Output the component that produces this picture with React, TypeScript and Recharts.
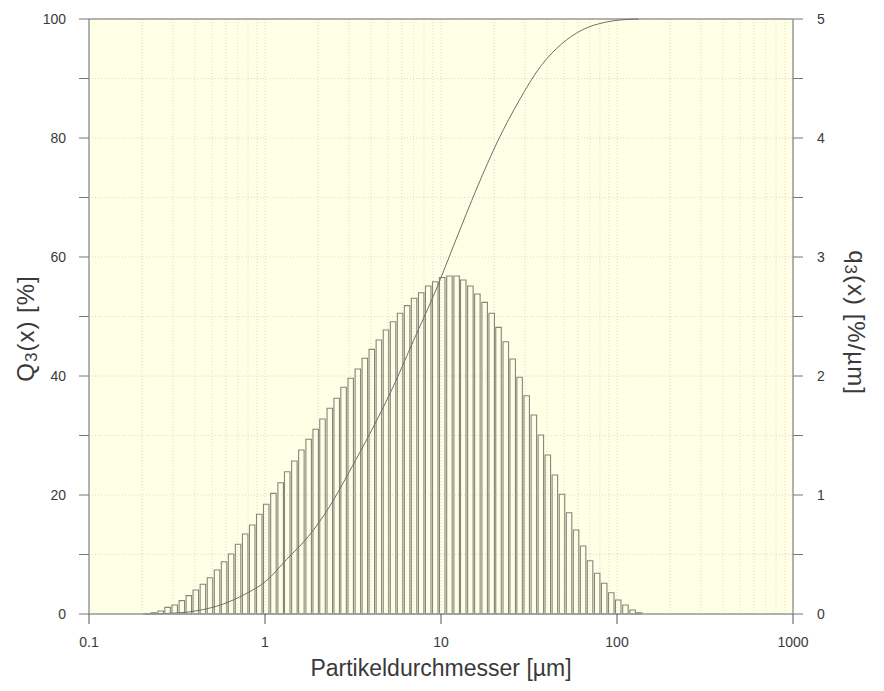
import { ComposedChart, Bar, Line, XAxis, YAxis, CartesianGrid, ReferenceLine, Label } from 'recharts';

// size classes (bin centres, µm)
const BIN_CENTERS = [
  0.211, 0.232, 0.254, 0.278, 0.305, 0.335, 0.367, 0.402, 0.441, 0.484, 0.531, 0.582, 0.638, 0.699, 0.767, 0.841, 0.922,
  1.01, 1.11, 1.22, 1.33, 1.46, 1.6, 1.76, 1.93, 2.11, 2.32, 2.54, 2.78, 3.05, 3.35, 3.67, 4.02, 4.41, 4.84, 5.31, 5.82,
  6.38, 6.99, 7.67, 8.41, 9.22,
  10.1, 11.1, 12.2, 13.3, 14.6, 16.0, 17.6, 19.3, 21.1, 23.2, 25.4, 27.8, 30.5, 33.5, 36.7, 40.2, 44.1, 48.4, 53.1, 58.2,
  63.8, 69.9, 76.7, 84.1, 92.2,
  101, 111, 122, 133,
];

// q3(x) [%/µm] per class
const Q3_DENSITY = [
  0.004, 0.011, 0.025, 0.056, 0.076, 0.112, 0.154, 0.202, 0.25, 0.305, 0.37, 0.439, 0.504, 0.586, 0.672, 0.748, 0.838,
  0.922, 1.014, 1.103, 1.196, 1.286, 1.378, 1.468, 1.552, 1.639, 1.729, 1.813, 1.905, 1.981, 2.059, 2.149, 2.224, 2.303,
  2.387, 2.456, 2.527, 2.591, 2.653, 2.7, 2.756, 2.792,
  2.828, 2.84, 2.84, 2.807, 2.756, 2.689, 2.619, 2.527, 2.409, 2.288, 2.143, 1.989, 1.834, 1.672, 1.504, 1.336, 1.168,
  1.006, 0.851, 0.706, 0.571, 0.448, 0.342, 0.258, 0.179,
  0.118, 0.076, 0.034, 0.011,
];

// Q3(x) [%]
const CURVE_SIZES = [0.211, 0.278, 0.402, 0.582, 0.767, 1.01, 1.33, 1.76, 2.32, 3.05, 4.02, 5.31, 6.99, 9.22, 12.2, 16.0, 21.1, 27.8, 36.7, 48.4, 63.8, 84.1, 111, 133];
const CURVE_Q3 = [0, 0.1, 0.5, 1.7, 3.3, 5.5, 9.2, 13, 18, 24.2, 30.8, 38, 46, 54, 63, 71.6, 79.6, 86.3, 92, 95.8, 98.2, 99.4, 99.9, 100];

const X_TICKS = [0.1, 1, 10, 100, 1000];
const X_MINOR = [2, 3, 4, 5, 6, 7, 8, 9];
const LEFT_TICKS = [0, 10, 20, 30, 40, 50, 60, 70, 80, 90, 100];
const RIGHT_TICKS = [0, 0.5, 1, 1.5, 2, 2.5, 3, 3.5, 4, 4.5, 5];

const X_GRID = [
  ...X_TICKS,
  ...X_TICKS.slice(0, -1).flatMap((d) => X_MINOR.map((m) => m * d)),
].sort((a, b) => a - b);

const rows = BIN_CENTERS.map((x, i) => {
  const j = CURVE_SIZES.indexOf(x);
  return { x, q: Q3_DENSITY[i], Q: j >= 0 ? CURVE_Q3[j] : null };
});

const FONT = '"Liberation Sans", Arial, sans-serif';
const AXIS = '#9a9a9a';
const TEXT = '#3a3a3a';

function XTick({ x, y, payload }: any) {
  if (!X_TICKS.includes(payload.value)) return null;
  return (
    <g>
      <line x1={x} x2={x} y1={y} y2={y + 10} stroke="#555" strokeWidth={1} />
      <text x={x} y={y + 33} textAnchor="middle" fill={TEXT} fontSize={14} fontFamily={FONT}>
        {payload.value}
      </text>
    </g>
  );
}

function XTitle({ viewBox }: any) {
  const { x, y, width } = viewBox;
  return (
    <text x={x + width / 2} y={y + 62} textAnchor="middle" fill={TEXT} fontSize={23} fontFamily={FONT}>
      Partikeldurchmesser [µm]
    </text>
  );
}

function LeftTitle({ viewBox }: any) {
  const cx = viewBox.x + 16;
  const cy = viewBox.y + viewBox.height / 2 + 12;
  return (
    <text x={cx} y={cy} transform={`rotate(-90, ${cx}, ${cy})`} textAnchor="middle" dominantBaseline="central"
      fill={TEXT} fontSize={24} letterSpacing={1} fontFamily={FONT}>
      Q<tspan fontSize={17} dy={6}>3</tspan><tspan dy={-6}>(x) [%]</tspan>
    </text>
  );
}

function RightTitle({ viewBox }: any) {
  const cx = viewBox.x + 64;
  const cy = viewBox.y + viewBox.height / 2 + 6;
  return (
    <text x={cx} y={cy} transform={`rotate(90, ${cx}, ${cy})`} textAnchor="middle" dominantBaseline="central"
      fill={TEXT} fontSize={24} letterSpacing={1} fontFamily={FONT}>
      q<tspan fontSize={17} dy={6}>3</tspan><tspan dy={-6}>(x) [%/µm]</tspan>
    </text>
  );
}

export default function App() {
  return (
    <div style={{ position: 'absolute', left: 0, top: 0, background: '#fff' }}>
      <ComposedChart width={884} height={691} data={rows} margin={{ top: 19, right: 31, left: 9, bottom: 37 }}>
        <CartesianGrid yAxisId="left" fill="#ffffe6" stroke="#dcdcc8" strokeDasharray="1 2" />
        <XAxis
          dataKey="x"
          type="number"
          scale="log"
          domain={[0.1, 1000]}
          allowDataOverflow
          ticks={X_GRID}
          interval={0}
          height={40}
          tickLine={false}
          tickSize={0}
          tickMargin={0}
          tick={<XTick />}
          axisLine={{ stroke: AXIS, strokeWidth: 1.5 }}
        >
          <Label content={<XTitle />} />
        </XAxis>
        <YAxis
          yAxisId="left"
          domain={[0, 100]}
          ticks={LEFT_TICKS}
          interval={0}
          width={80}
          tickSize={10}
          tickMargin={13}
          tickFormatter={(v: number) => (v % 20 === 0 ? String(v) : '')}
          tick={{ fill: TEXT, fontSize: 14, fontFamily: FONT }}
          tickLine={{ stroke: '#777' }}
          axisLine={{ stroke: AXIS, strokeWidth: 1.5 }}
        >
          <Label content={<LeftTitle />} />
        </YAxis>
        <YAxis
          yAxisId="right"
          orientation="right"
          domain={[0, 5]}
          ticks={RIGHT_TICKS}
          interval={0}
          width={60}
          tickSize={10}
          tickMargin={14}
          tickFormatter={(v: number) => (Number.isInteger(v) ? String(v) : '')}
          tick={{ fill: TEXT, fontSize: 14, fontFamily: FONT }}
          tickLine={{ stroke: '#777' }}
          axisLine={{ stroke: AXIS, strokeWidth: 1.5 }}
        >
          <Label content={<RightTitle />} />
        </YAxis>
        <ReferenceLine yAxisId="left" y={100} stroke={AXIS} strokeWidth={1.5} />
        <Bar yAxisId="right" dataKey="q" barSize={5.5} fill="none" stroke="#85857a" strokeWidth={1.1} isAnimationActive={false} />
        <Line yAxisId="left" dataKey="Q" type="monotone" connectNulls dot={false} stroke="#6e6e6e" strokeWidth={1} isAnimationActive={false} />
      </ComposedChart>
    </div>
  );
}
